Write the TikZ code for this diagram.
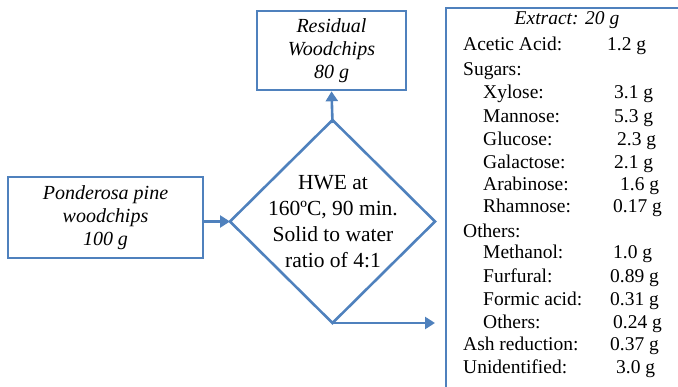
\documentclass[tikz,border=0pt]{standalone}
\usepackage{fontspec}
\setmainfont{Liberation Serif}
\newfontfamily\tnr{Liberation Serif}
\usetikzlibrary{shapes.geometric,arrows.meta}
\definecolor{flowblue}{RGB}{79,129,189}
\begin{document}
\begin{tikzpicture}[x=1pt,y=-1pt,
  boxnode/.style={draw=flowblue,line width=2.6pt,align=center,inner sep=0,
    font=\tnr\fontsize{20}{23}\selectfont\itshape},
  conn/.style={draw=flowblue,line width=2.6pt,-{Triangle[length=10pt,width=12pt]}},
  item/.style={anchor=base west,inner sep=0,font=\tnr\fontsize{19.5}{23}\selectfont}]
\useasboundingbox (0,0) rectangle (678,387);
\clip (0,0) rectangle (678,387);
\node[boxnode,minimum width=149,minimum height=79] (res) at (331.5,50.5) {Residual\\Woodchips\\80 g};
\node[boxnode,minimum width=195,minimum height=81] (pine) at (105.5,217.5) {Ponderosa pine\\woodchips\\100 g};
\node[draw=flowblue,line width=2.6pt,diamond,minimum width=205,minimum height=203,inner sep=0,outer sep=0] (hwe) at (332.5,221.5) {};
\node[align=center,inner sep=0,font=\tnr\fontsize{21.5}{26}\selectfont] (hwetext) at (333,221.5) {HWE at\\160ºC, 90 min.\\Solid to water\\ratio of 4:1};
\coordinate (extin) at (435,324);
\draw[draw=flowblue,line width=2.6pt] (446,400) -- (446,8) -- (700,8);
\draw[conn] ([yshift=-3]hwe.north) -- (res.south);
\draw[conn] (pine.east |- hwe.west) -- (hwe.west);
\draw[conn] (hwe.south) -- (hwe.south -| extin);
\node[inner sep=0,font=\tnr\fontsize{19.5}{23}\selectfont\itshape] (ext) at (567,20) {Extract: 20 g};
\foreach \n/\lx/\yy/\lab in {1/463/45/Acetic Acid:,2/463/70/Sugars:,3/483/93/Xylose:,4/483/117/Mannose:,5/483/140/Glucose:,6/483/163/Galactose:,7/483/185/Arabinose:,8/483/207/Rhamnose:,9/463/232/Others:,10/483/253/Methanol:,11/483/277/Furfural:,12/483/300/Formic acid:,13/483/323/Others:,14/463/345/Ash reduction:,15/463/368/Unidentified:}
  \node[item] (lab\n) at (\lx,\yy+6) {\lab};
\foreach \n/\vx/\yy/\val in {1/607/45/1.2 g,3/614/93/3.1 g,4/614/117/5.3 g,5/617/140/2.3 g,6/614/163/2.1 g,7/620/185/1.6 g,8/613/207/0.17 g,10/613/253/1.0 g,11/610/277/0.89 g,12/610/300/0.31 g,13/613/323/0.24 g,14/610/345/0.37 g,15/616/368/3.0 g}
  \node[item] (val\n) at (\vx,\yy+6) {\val};
\end{tikzpicture}
\end{document}
